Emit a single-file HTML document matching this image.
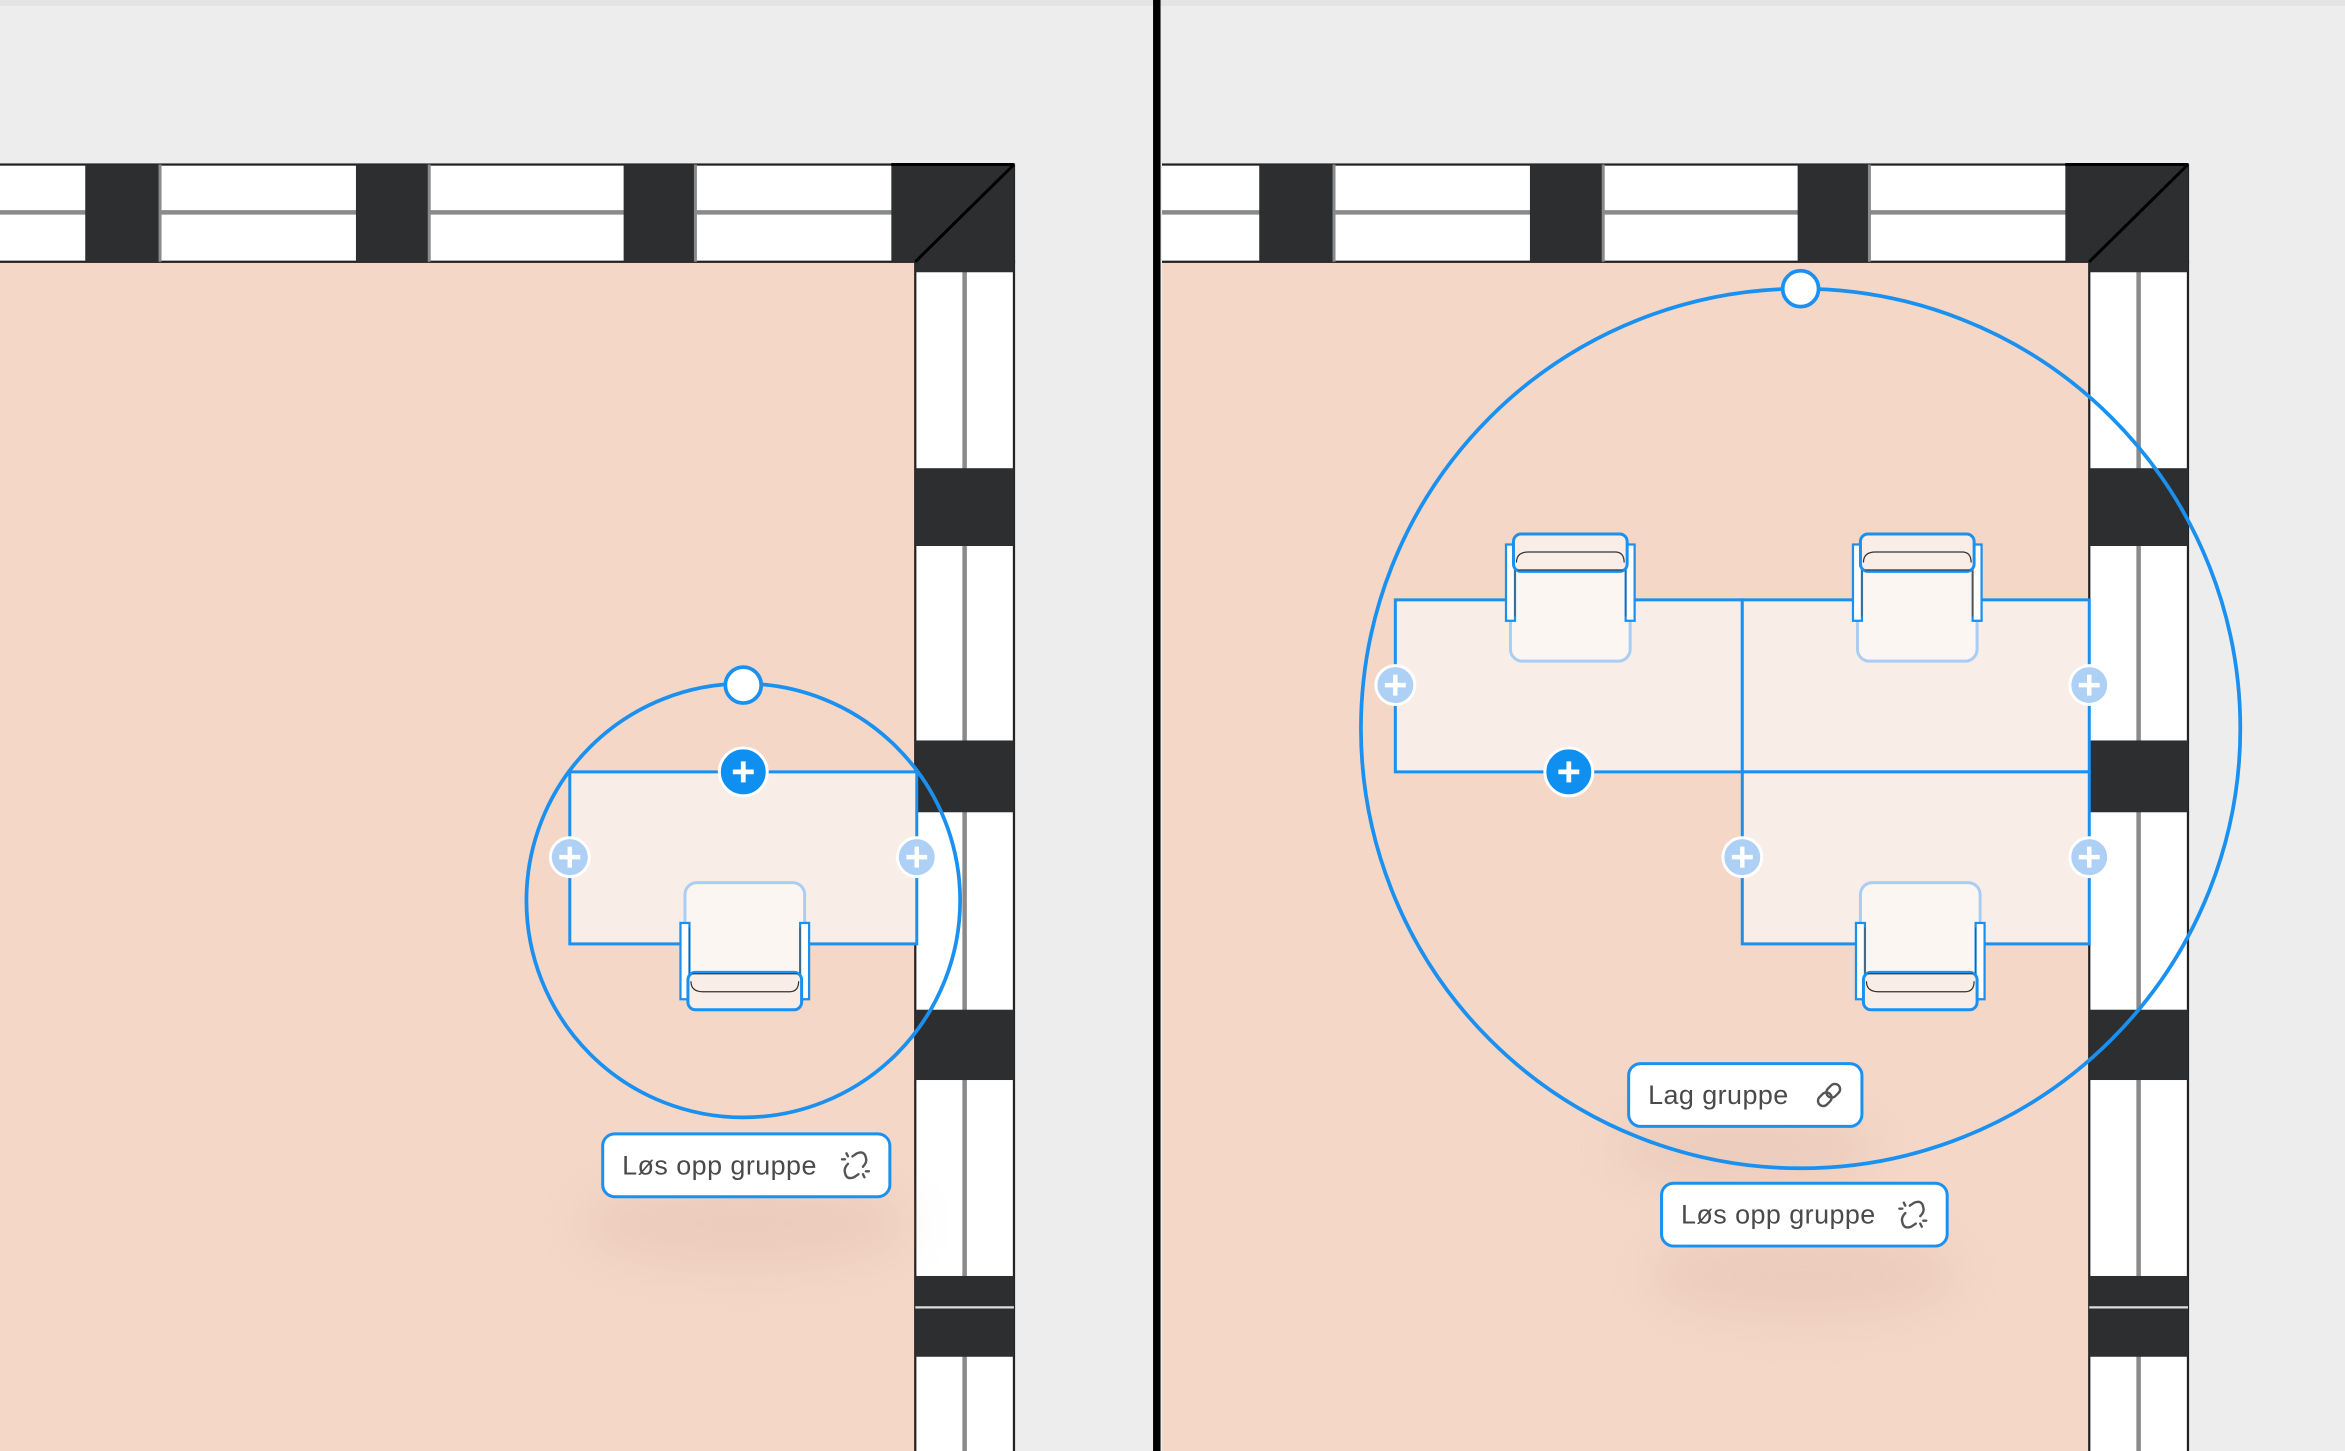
<!DOCTYPE html>
<html><head><meta charset="utf-8"><style>
html,body{margin:0;padding:0;background:#ededed;}
svg{display:block;}
text{font-family:"Liberation Sans",sans-serif;}
</style></head><body>
<svg width="2345" height="1451" viewBox="0 0 1568 970" preserveAspectRatio="none" xmlns="http://www.w3.org/2000/svg">
<defs>
<filter id="sh" x="-50%" y="-50%" width="200%" height="300%"><feGaussianBlur stdDeviation="16"/></filter>
<g id="wall">
  <rect x="-20" y="175" width="632" height="800" fill="#f4d7c7"/>
  <rect x="-20" y="110" width="698" height="65" fill="#fff" stroke="#222" stroke-width="1.5"/>
  <line x1="-20" y1="142" x2="600" y2="142" stroke="#8a8a8a" stroke-width="3"/>
  <rect x="57" y="110" width="50" height="65" fill="#2d2e30"/>
  <rect x="238" y="110" width="49" height="65" fill="#2d2e30"/>
  <rect x="417" y="110" width="48" height="65" fill="#2d2e30"/>
  <line x1="107" y1="110" x2="107" y2="175" stroke="#8a8a8a" stroke-width="2"/>
  <line x1="287" y1="110" x2="287" y2="175" stroke="#8a8a8a" stroke-width="2"/>
  <line x1="465" y1="110" x2="465" y2="175" stroke="#8a8a8a" stroke-width="2"/>
  <rect x="612" y="175" width="66" height="800" fill="#fff" stroke="#222" stroke-width="1.5"/>
  <line x1="645" y1="180" x2="645" y2="975" stroke="#8a8a8a" stroke-width="3"/>
  <rect x="612" y="313" width="66" height="52" fill="#2d2e30"/>
  <rect x="612" y="495" width="66" height="48" fill="#2d2e30"/>
  <rect x="612" y="675" width="66" height="47" fill="#2d2e30"/>
  <rect x="612" y="853" width="66" height="54" fill="#2d2e30"/>
  <line x1="612" y1="874" x2="678" y2="874" stroke="#ddd" stroke-width="1.5"/>
  <polygon points="596,110 678,110 678,182 612,182 612,175 596,175" fill="#2d2e30"/>
  <line x1="678" y1="110" x2="612" y2="175" stroke="#000" stroke-width="2"/>
  <line x1="596" y1="110" x2="678" y2="110" stroke="#000" stroke-width="2"/>
</g>
<g id="chair">
  <rect x="458" y="590" width="80" height="82" rx="8" fill="#fcf6f2" stroke="#a9cdf4" stroke-width="2"/>
  <rect x="455" y="617" width="6" height="51" fill="#fff" stroke="#1a91f0" stroke-width="1.5"/>
  <rect x="535" y="617" width="6" height="51" fill="#fff" stroke="#1a91f0" stroke-width="1.5"/>
  <line x1="461" y1="620" x2="461" y2="665" stroke="#555" stroke-width="0.8"/>
  <line x1="535" y1="620" x2="535" y2="665" stroke="#555" stroke-width="0.8"/>
  <rect x="460" y="650" width="76" height="25" rx="5" fill="#f9ede7" stroke="#1a91f0" stroke-width="2"/>
  <line x1="463" y1="651" x2="533" y2="651" stroke="#333" stroke-width="0.8"/>
  <path d="M462 656 Q462 663 470 663 L528 663 Q534 663 534 656" fill="none" stroke="#333" stroke-width="0.8"/>
</g>
<g id="lp"><circle r="13" fill="#aed0f5" stroke="#fff" stroke-width="2"/><path d="M-7 0H7M0 -7V7" stroke="#fff" stroke-width="3"/></g>
<g id="dp"><circle r="16" fill="#0f8ff0" stroke="#fff" stroke-width="2"/><path d="M-7 0H7M0 -7V7" stroke="#fff" stroke-width="3.2"/></g>
<g id="unlink" fill="none" stroke="#555" stroke-width="1.6" stroke-linecap="round">
  <path d="M-2 -6 L1 -8 Q6 -10 7 -5 Q8 -2 5 1"/>
  <path d="M2 6 L-1 8 Q-6 10 -7 5 Q-8 2 -5 -1"/>
  <path d="M-6 -8 L-5 -6 M-9 -4 L-7 -4 M6 8 L5 6 M9 4 L7 4"/>
</g>
</defs>
<rect x="0" y="0" width="1568" height="970" fill="#ededed"/>
<rect x="0" y="0" width="1568" height="4" fill="#e4e4e4"/>

<use href="#wall"/>
<ellipse cx="497" cy="818" rx="110" ry="30" fill="#d8b5a5" opacity="0.3" filter="url(#sh)"/>
<circle cx="497" cy="602" r="145" fill="none" stroke="#1a91f0" stroke-width="2.5"/>
<rect x="381" y="516" width="232" height="115" fill="#f9ede7" stroke="#1a91f0" stroke-width="2"/>
<use href="#chair"/>
<circle cx="497" cy="458" r="12" fill="#fff" stroke="#1a91f0" stroke-width="2.5"/>
<use href="#dp" x="497" y="516"/>
<use href="#lp" x="381" y="573"/>
<use href="#lp" x="613" y="573"/>
<rect x="403" y="758" width="192" height="42" rx="8" fill="#fff" stroke="#1a91f0" stroke-width="2"/>
<text x="416" y="785" font-size="18" fill="#4a4a4a" letter-spacing="0.3">Løs opp gruppe</text>
<use href="#unlink" x="572" y="779"/>

<rect x="771" y="0" width="5" height="970" fill="#000"/>

<svg x="777" y="0" width="791" height="970" viewBox="777 0 791 970" overflow="hidden">
  <use href="#wall" x="785"/>
</svg>
<ellipse cx="1167" cy="768" rx="90" ry="25" fill="#d8b5a5" opacity="0.3" filter="url(#sh)"/>
<ellipse cx="1206" cy="852" rx="105" ry="30" fill="#d8b5a5" opacity="0.3" filter="url(#sh)"/>
<circle cx="1204" cy="487" r="294" fill="none" stroke="#1a91f0" stroke-width="2.5"/>
<rect x="933" y="401" width="232" height="115" fill="#f9ede7" stroke="#1a91f0" stroke-width="2"/>
<rect x="1165" y="401" width="232" height="115" fill="#f9ede7" stroke="#1a91f0" stroke-width="2"/>
<rect x="1165" y="516" width="232" height="115" fill="#f9ede7" stroke="#1a91f0" stroke-width="2"/>
<use href="#chair" x="786"/>
<g transform="translate(0,1032) scale(1,-1)"><use href="#chair" x="552"/></g>
<g transform="translate(0,1032) scale(1,-1)"><use href="#chair" x="784"/></g>
<circle cx="1204" cy="193" r="12" fill="#fff" stroke="#1a91f0" stroke-width="2.5"/>
<use href="#dp" x="1049" y="516"/>
<use href="#lp" x="933" y="458"/>
<use href="#lp" x="1397" y="458"/>
<use href="#lp" x="1165" y="573"/>
<use href="#lp" x="1397" y="573"/>
<rect x="1089" y="711" width="156" height="42" rx="8" fill="#fff" stroke="#1a91f0" stroke-width="2"/>
<text x="1102" y="738" font-size="18" fill="#4a4a4a" letter-spacing="0.3">Lag gruppe</text>
<g transform="translate(1223,732) rotate(-45)" fill="none" stroke="#555" stroke-width="1.6">
  <rect x="-9" y="-3.5" width="10" height="7" rx="3.5"/>
  <rect x="-1" y="-3.5" width="10" height="7" rx="3.5"/>
</g>
<rect x="1111" y="791" width="191" height="42" rx="8" fill="#fff" stroke="#1a91f0" stroke-width="2"/>
<text x="1124" y="818" font-size="18" fill="#4a4a4a" letter-spacing="0.3">Løs opp gruppe</text>
<use href="#unlink" x="1279" y="812"/>
</svg>
</body></html>
